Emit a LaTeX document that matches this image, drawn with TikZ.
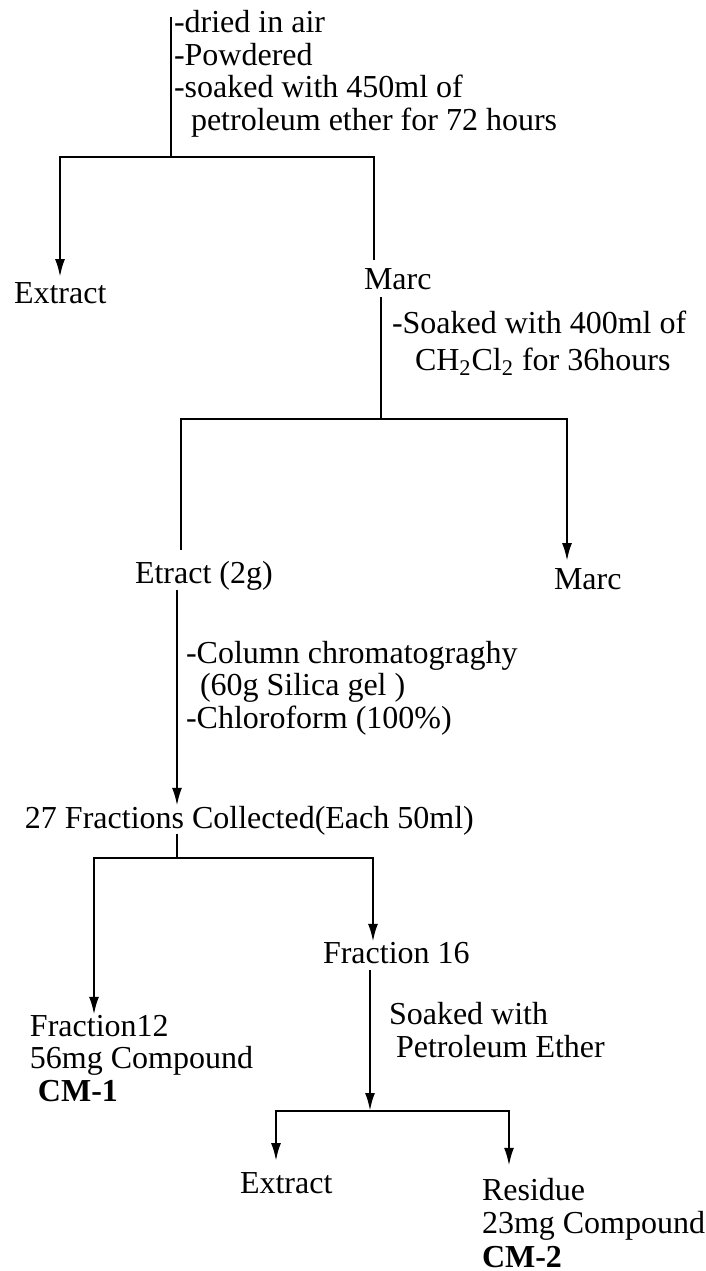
\documentclass[tikz,border=0pt]{standalone}
\usepackage{fontspec}
\setmainfont{Liberation Serif}
\usetikzlibrary{arrows.meta, positioning}

\begin{document}
\begin{tikzpicture}[
    x=0.5pt, y=-0.5pt,
    every node/.style={inner sep=0pt, outer sep=0pt, align=left, anchor=base west,
        font=\fontsize{16pt}{16.25pt}\selectfont},
    line/.style={draw, line width=1.2pt, line cap=rect},
    arr/.style={draw, line width=1.2pt, -{Latex[length=9pt, width=5pt]}}
]
\useasboundingbox (0,0) rectangle (706,1271);

% Vorbehandlung und erste Extraktion
\node (prep) at (174,130) {-dried in air\\-Powdered\\-soaked with 450ml of\\\hspace*{8.5pt}petroleum ether for 72 hours};
\node (ext1) at (14,303) {Extract};
\node (marc1) at (364,289) {Marc};
\coordinate (top) at (171,18);
\coordinate (b1) at (171,157);
\coordinate (b1l) at (60,157);
\coordinate (b1r) at (374,157);
\draw[line] (top) -- (b1);
\draw[line] (b1l) -- (b1r);
\draw[arr, shorten >=2.5pt] (b1l) -- (b1l |- ext1.north);
\draw[line, shorten >=4.5pt] (b1r) -- (b1r |- marc1.north);

% zweite Extraktion
\node (soak1) at (392,370) {-Soaked with 400ml of\\[2pt]\hspace*{11.5pt}CH\textsubscript{2}Cl\textsubscript{2} for 36hours};
\node (etr) at (135,583) {Etract (2g)};
\node (marc2) at (554,589) {Marc};
\coordinate (b2) at (381,419);
\coordinate (b2l) at (181,419);
\coordinate (b2r) at (567,419);
\draw[line, shorten <=4.5pt] (b2 |- marc1.south) -- (b2);
\draw[line] (b2l) -- (b2r);
\draw[line, shorten >=6pt] (b2l) -- (b2l |- etr.north);
\draw[arr, shorten >=3.5pt] (b2r) -- (b2r |- marc2.north);

% Saeulenchromatographie
\node (column) at (186,728) {-Column chromatograghy\\\hspace*{7pt}(60g Silica gel )\\-Chloroform (100\%)};
\node (frac27) at (25,828) {27 Fractions Collected(Each 50ml)};
\node (fr16) at (323,963) {Fraction 16};
\node (fr12) at (30,1101) {Fraction12\\56mg Compound\\\hspace*{4pt}\textbf{CM-1}};
\coordinate (b3) at (177,858);
\coordinate (b3l) at (94,858);
\coordinate (b3r) at (373,858);
\draw[arr] (etr.south -| b3) -- (frac27.north -| b3);
\draw[line] (frac27.south -| b3) -- (b3);
\draw[line] (b3l) -- (b3r);
\draw[arr] (b3l) -- (b3l |- fr12.north);
\draw[arr] (b3r) -- (b3r |- fr16.north);

% Fraktion 16
\node (soak2) at (389,1057) {Soaked with\\\hspace*{3.5pt}Petroleum Ether};
\node (ext2) at (240,1193) {Extract};
\node (res) at (482,1267) {Residue\\[0.5pt]23mg Compound\\[0.5pt]\textbf{CM-2}};
\coordinate (b4) at (370,1111);
\coordinate (b4l) at (276,1111);
\coordinate (b4r) at (509,1111);
\draw[arr, shorten <=3.5pt] (b4 |- fr16.south) -- (b4);
\draw[line] (b4l) -- (b4r);
\draw[arr, shorten >=5.5pt] (b4l) -- (b4l |- ext2.north);
\draw[arr, shorten >=6pt] (b4r) -- (b4r |- res.north);

\end{tikzpicture}
\end{document}
